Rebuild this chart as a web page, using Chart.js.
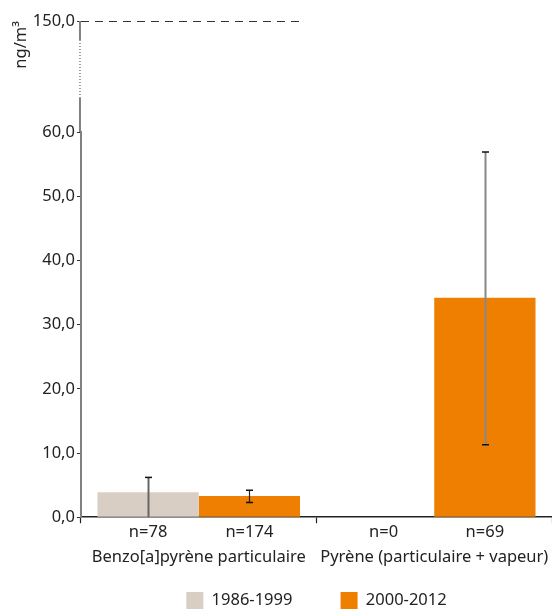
<!DOCTYPE html>
<html>
<head>
<meta charset="utf-8">
<script src="https://cdn.jsdelivr.net/npm/chart.js@4/dist/chart.umd.min.js"></script>
<style>
  body { margin: 0; background: #fff; }
  #wrap { width: 552px; height: 610px; }
</style>
</head>
<body>
<div id="wrap"><canvas id="chart" width="552" height="610"></canvas></div>
<script>
// categories and series
var categories = ['Benzo[a]pyrène particulaire', 'Pyrène (particulaire + vapeur)'];
var seriesNames = ['1986-1999', '2000-2012'];
var values1986 = [3.9, null];
var values2000 = [3.3, 34.2];
var errLow1986 = [0.0, null];
var errHigh1986 = [6.2, null];
var errLow2000 = [2.3, 11.3];
var errHigh2000 = [4.2, 56.9];
var nLabels1986 = ['n=78', 'n=0'];
var nLabels2000 = ['n=174', 'n=69'];
var yTicks = [0, 10, 20, 30, 40, 50, 60];
var yBreakTick = 150;

var FONT = "'Noto Sans', sans-serif";
var FS = 16.5;
var TXT = '#222';

function fmt(v) {
  return v.toFixed(1).replace('.', ',');
}

// error bars, n= labels, dashed 150 line and the broken part of the axis
var extras = {
  id: 'extras',
  afterDatasetsDraw: function(chart) {
    var ctx = chart.ctx;
    var y = chart.scales.y;
    var errs = [[errLow1986, errHigh1986], [errLow2000, errHigh2000]];
    ctx.save();
    for (var d = 0; d < 2; d++) {
      var meta = chart.getDatasetMeta(d);
      meta.data.forEach(function(bar, i) {
        var lo = errs[d][0][i], hi = errs[d][1][i];
        if (lo == null || hi == null) return;
        var x = Math.round(bar.x) + 0.5;
        var yl = y.getPixelForValue(lo), yh = y.getPixelForValue(hi);
        ctx.strokeStyle = d == 0 ? '#666' : (hi > 20 ? '#888' : '#222');
        ctx.lineWidth = d == 0 || hi > 20 ? 2 : 1.2;
        ctx.beginPath(); ctx.moveTo(x, yl); ctx.lineTo(x, yh); ctx.stroke();
        ctx.strokeStyle = '#111';
        ctx.lineWidth = 1.5;
        ctx.beginPath();
        ctx.moveTo(x - 3.5, yh); ctx.lineTo(x + 3.5, yh);
        if (lo > 0) { ctx.moveTo(x - 3.5, yl); ctx.lineTo(x + 3.5, yl); }
        ctx.stroke();
      });
    }
    ctx.restore();
  },
  afterDraw: function(chart) {
    var ctx = chart.ctx;
    var xs = chart.scales.x, top = chart.scales.ytop;
    var names = [nLabels1986, nLabels2000];
    ctx.save();
    ctx.font = FS + 'px ' + FONT;
    ctx.fillStyle = TXT;
    ctx.textAlign = 'center';
    ctx.textBaseline = 'middle';
    for (var d = 0; d < 2; d++) {
      chart.getDatasetMeta(d).data.forEach(function(bar, i) {
        ctx.fillText(names[d][i], bar.x, xs.top + 15);
      });
    }
    // dashed line at the break value
    var yb = Math.round(top.getPixelForValue(yBreakTick)) + 0.5;
    var b = chart.getDatasetMeta(1).data[0];
    ctx.strokeStyle = '#333';
    ctx.lineWidth = 1;
    ctx.setLineDash([8, 6]);
    ctx.beginPath(); ctx.moveTo(chart.chartArea.left, yb); ctx.lineTo(b.x + b.width / 2, yb); ctx.stroke();
    // broken axis line
    var ax = chart.scales.y.left + chart.scales.y.width - 1;
    var h = top.bottom - top.top;
    ctx.strokeStyle = '#808080';
    ctx.lineWidth = 2;
    ctx.setLineDash([]);
    ctx.beginPath();
    ctx.moveTo(ax, top.top); ctx.lineTo(ax, top.top + h * 0.17);
    ctx.moveTo(ax, top.top + h * 0.69); ctx.lineTo(ax, top.bottom);
    ctx.stroke();
    ctx.lineWidth = 1.5;
    ctx.setLineDash([1, 2]);
    ctx.beginPath(); ctx.moveTo(ax, top.top + h * 0.17); ctx.lineTo(ax, top.top + h * 0.69); ctx.stroke();
    ctx.restore();
  }
};

var chart = new Chart(document.getElementById('chart'), {
  type: 'bar',
  data: {
    labels: categories,
    datasets: [
      { label: seriesNames[0], data: values1986, backgroundColor: '#D9CEC4' },
      { label: seriesNames[1], data: values2000, backgroundColor: '#EE7F00' }
    ]
  },
  options: {
    responsive: false,
    animation: false,
    categoryPercentage: 0.86,
    barPercentage: 1.0,
    layout: { padding: { top: 21, right: 0, left: 11, bottom: -9 } },
    plugins: {
      tooltip: { enabled: false },
      legend: {
        position: 'bottom',
        fullSize: false,
        labels: {
          font: { family: FONT, size: FS },
          color: TXT,
          boxWidth: 17,
          boxHeight: 17,
          padding: 1,
          generateLabels: function(c) {
            var items = Chart.defaults.plugins.legend.labels.generateLabels(c);
            items.forEach(function(it, i) {
              it.lineWidth = 0;
              if (i < items.length - 1) it.text = it.text + '           ';
            });
            return items;
          }
        }
      }
    },
    scales: {
      x: {
        grid: { drawOnChartArea: false, tickLength: 6, color: '#222', tickWidth: 1.2 },
        border: { color: '#222', width: 1.5 },
        ticks: { font: { family: FONT, size: FS }, color: TXT, padding: 24, maxRotation: 0, autoSkip: false },
        afterFit: function(s) { s.paddingLeft = 0; s.paddingRight = 0; }
      },
      y: {
        stack: 'left',
        stackWeight: 385,
        min: 0,
        max: 60,
        afterBuildTicks: function(s) { s.ticks = yTicks.map(function(v) { return { value: v }; }); },
        grid: { drawOnChartArea: false, tickLength: 4, color: '#333' },
        border: { color: '#808080', width: 2 },
        ticks: { font: { family: FONT, size: FS }, color: TXT, padding: 2, callback: function(v) { return fmt(v); } }
      },
      ytop: {
        type: 'linear',
        position: 'left',
        stack: 'left',
        stackWeight: 111,
        min: 60,
        max: 150,
        afterBuildTicks: function(s) { s.ticks = [{ value: yBreakTick }]; },
        grid: { drawOnChartArea: false, tickLength: 4, color: '#333' },
        border: { display: false },
        ticks: { font: { family: FONT, size: FS }, color: TXT, padding: 2, callback: function(v) { return fmt(v); } },
        title: { display: true, text: 'ng/m³', align: 'end', font: { family: FONT, size: FS }, color: TXT, padding: 0 }
      }
    }
  },
  plugins: [extras]
});
</script>
</body>
</html>
